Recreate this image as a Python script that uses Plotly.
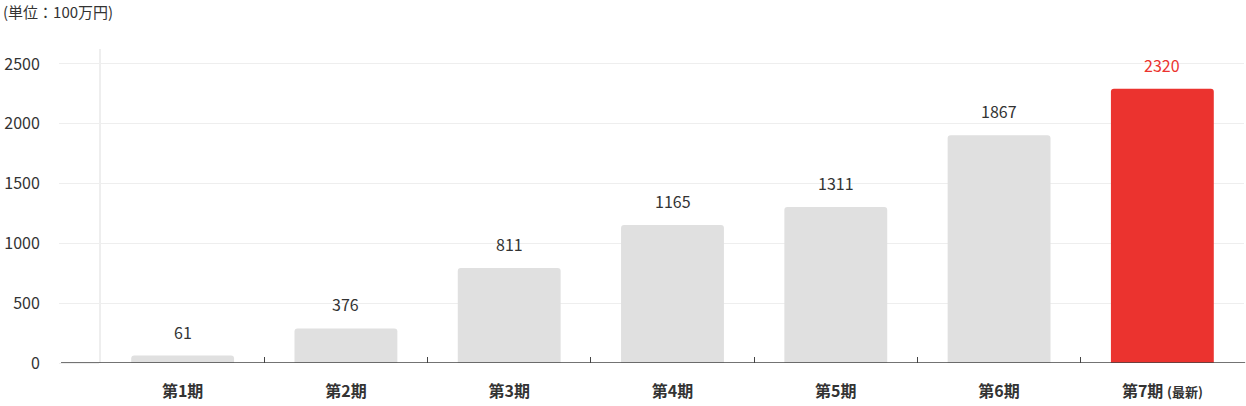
import plotly.graph_objects as go

categories = ["第1期", "第2期", "第3期", "第4期", "第5期", "第6期", "第7期"]
tick_labels = ["<b>第1期</b>", "<b>第2期</b>", "<b>第3期</b>", "<b>第4期</b>",
               "<b>第5期</b>", "<b>第6期</b>",
               "<b>第7期</b> <span style='font-size:13px'><b>(最新)</b></span>"]
bar_values = [62, 289, 794, 1154, 1304, 1904, 2293]
label_values = [61, 376, 811, 1165, 1311, 1867, 2320]
y_ticks = [0, 500, 1000, 1500, 2000, 2500]

GRAY = "#e0e0e0"
RED = "#eb332f"
TEXT = "#333333"
FONT = "Noto Sans CJK JP"

colors = [GRAY] * 6 + [RED]
label_colors = [TEXT] * 6 + [RED]

fig = go.Figure(go.Bar(
    x=categories, y=bar_values, marker=dict(color=colors, line=dict(width=0)),
    width=0.63, hoverinfo="skip",
))

for c, b, l, col in zip(categories, bar_values, label_values, label_colors):
    fig.add_annotation(x=c, y=b, text=str(l), showarrow=False, yanchor="middle",
                       yshift=24, font=dict(family=FONT, size=16, color=col))

fig.add_annotation(xref="paper", yref="paper", x=-100/1144, y=1 + 37/314,
                   xanchor="left", yanchor="middle", text="(単位：100万円)",
                   showarrow=False, font=dict(family=FONT, size=15, color=TEXT))

# baseline extending into tick area
fig.add_shape(type="line", xref="paper", yref="y", x0=-40/1144, x1=1.001, y0=0, y1=0,
              line=dict(color="#444444", width=1.5))

fig.update_layout(
    width=1246, height=406,
    margin=dict(l=101, r=2, t=49, b=43),
    plot_bgcolor="white", paper_bgcolor="white",
    barcornerradius=3,
    showlegend=False,
    font=dict(family=FONT, color=TEXT),
    xaxis=dict(
        tickmode="array", tickvals=categories, ticktext=tick_labels,
        tickson="boundaries", ticks="inside", ticklen=6, tickcolor="#444444",
        showgrid=False, showline=False, ticklabelstandoff=17,
        tickfont=dict(family=FONT, size=16, color=TEXT),
    ),
    yaxis=dict(
        range=[0, 2625], tickvals=y_ticks, showgrid=True, gridcolor="#eeeeee",
        gridwidth=1, zeroline=False, showline=True, linecolor="#eeeeee", linewidth=2,
        ticks="outside", ticklen=40, tickcolor="#eeeeee", tickwidth=1,
        ticklabelstandoff=16,
        tickfont=dict(family=FONT, size=16, color=TEXT),
    ),
    bargap=0.37,
)

fig.write_html("out.html", config={"displayModeBar": False},
               post_script="document.body.style.margin='0';")
